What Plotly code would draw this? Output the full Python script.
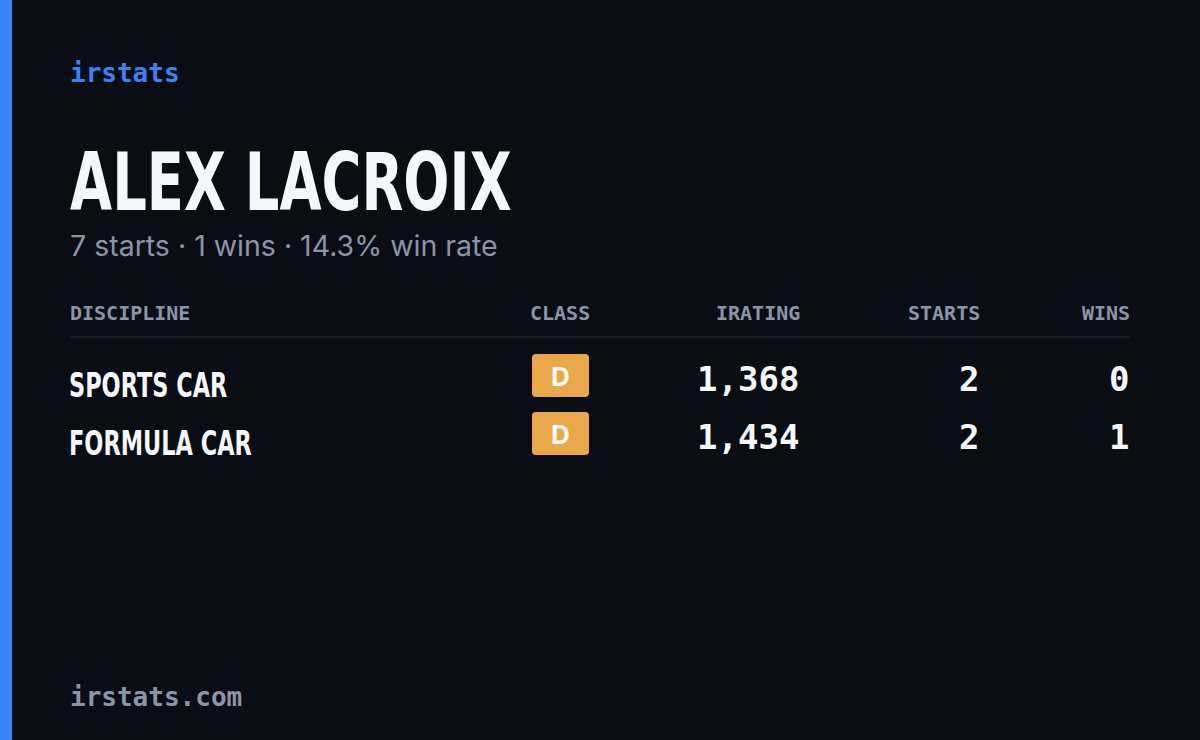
import plotly.graph_objects as go

# Data
driver = "ALEX LACROIX"
summary = "7 starts · 1 wins · 14.3% win rate"
columns = ["DISCIPLINE", "CLASS", "IRATING", "STARTS", "WINS"]
disciplines = ["SPORTS CAR", "FORMULA CAR"]
classes = ["D", "D"]
iratings = [1368, 1434]
starts = [2, 2]
wins = [0, 1]

BG = "#0a0d14"
MONO = "DejaVu Sans Mono, Liberation Mono, monospace"
COND = "DejaVu Sans, sans-serif"

fig = go.Figure()
fig.update_xaxes(range=[0, 1200], visible=False, fixedrange=True)
fig.update_yaxes(range=[740, 0], visible=False, fixedrange=True)

shapes = [
    dict(type="rect", x0=0, x1=12, y0=0, y1=740, fillcolor="#3b82f6", line_width=0, layer="below"),
    dict(type="line", x0=70, x1=1130, y0=337, y1=337, line=dict(color="#1e2330", width=1.5)),
]
ann = []
def txt(x, y, s, size, color, font, anchor="left", bold=False):
    ann.append(dict(x=x, y=y, text=f"<b>{s}</b>" if bold else s, showarrow=False,
                    xanchor=anchor, yanchor="middle",
                    font=dict(size=size, color=color, family=font)))

txt(68, 73, "irstats", 26, "#3b82f6", MONO, bold=True)
txt(68, 182, driver, 80, "#f5f7fa", COND, bold=True)
txt(68, 245, summary, 28.5, "#8b95a8", "Inter, Noto Sans, sans-serif")

col_x = [(68, "left"), (560, "center"), (802, "right"), (982, "right"), (1132, "right")]
for (x, a), c in zip(col_x, columns):
    txt(x, 313, c, 20, "#8b95a8", MONO, bold=True)
    ann[-1]["xanchor"] = a

row_y = [381, 439]
for i, y in enumerate(row_y):
    txt(67, y + 4, disciplines[i], 33, "#f5f7fa", COND, bold=True)
    shapes.append(dict(type="path", layer="below", fillcolor="#eba84a", line_width=0,
                       path=f"M536,{y-27} L585,{y-27} Q589,{y-27} 589,{y-23} L589,{y+12} "
                            f"Q589,{y+16} 585,{y+16} L536,{y+16} Q532,{y+16} 532,{y+12} "
                            f"L532,{y-23} Q532,{y-27} 536,{y-27} Z"))
    txt(560, y - 5, classes[i], 26, "#ffffff", "Inter, sans-serif", anchor="center", bold=True)
    txt(801, y - 2, f"{iratings[i]:,}", 34, "#f5f7fa", MONO, anchor="right", bold=True)
    txt(981, y - 2, str(starts[i]), 34, "#f5f7fa", MONO, anchor="right", bold=True)
    txt(1131, y - 2, str(wins[i]), 34, "#f5f7fa", MONO, anchor="right", bold=True)

txt(68, 697, "irstats.com", 26, "#8b95a8", MONO, bold=True)

fig.update_layout(width=1200, height=740, margin=dict(l=0, r=0, t=0, b=0),
                  paper_bgcolor=BG, plot_bgcolor=BG, shapes=shapes, annotations=ann,
                  showlegend=False)
# squeeze the heavy sans texts horizontally to mimic a condensed face
post = """
document.body.style.margin='0';document.body.style.background='%s';
document.querySelectorAll('.annotation-text').forEach(function(t){
  var f=t.style.fontFamily;
  if(f.indexOf('DejaVu Sans,')===0||f.indexOf('"DejaVu Sans"')===0){
    var b=t.getBBox();var bx=b.x;
    t.setAttribute('transform','translate('+bx+',0) scale(0.68,1) translate('+(-bx)+',0)');
  }
});
""" % BG
fig.write_html("out.html", config={"displayModeBar": False}, post_script=post)
